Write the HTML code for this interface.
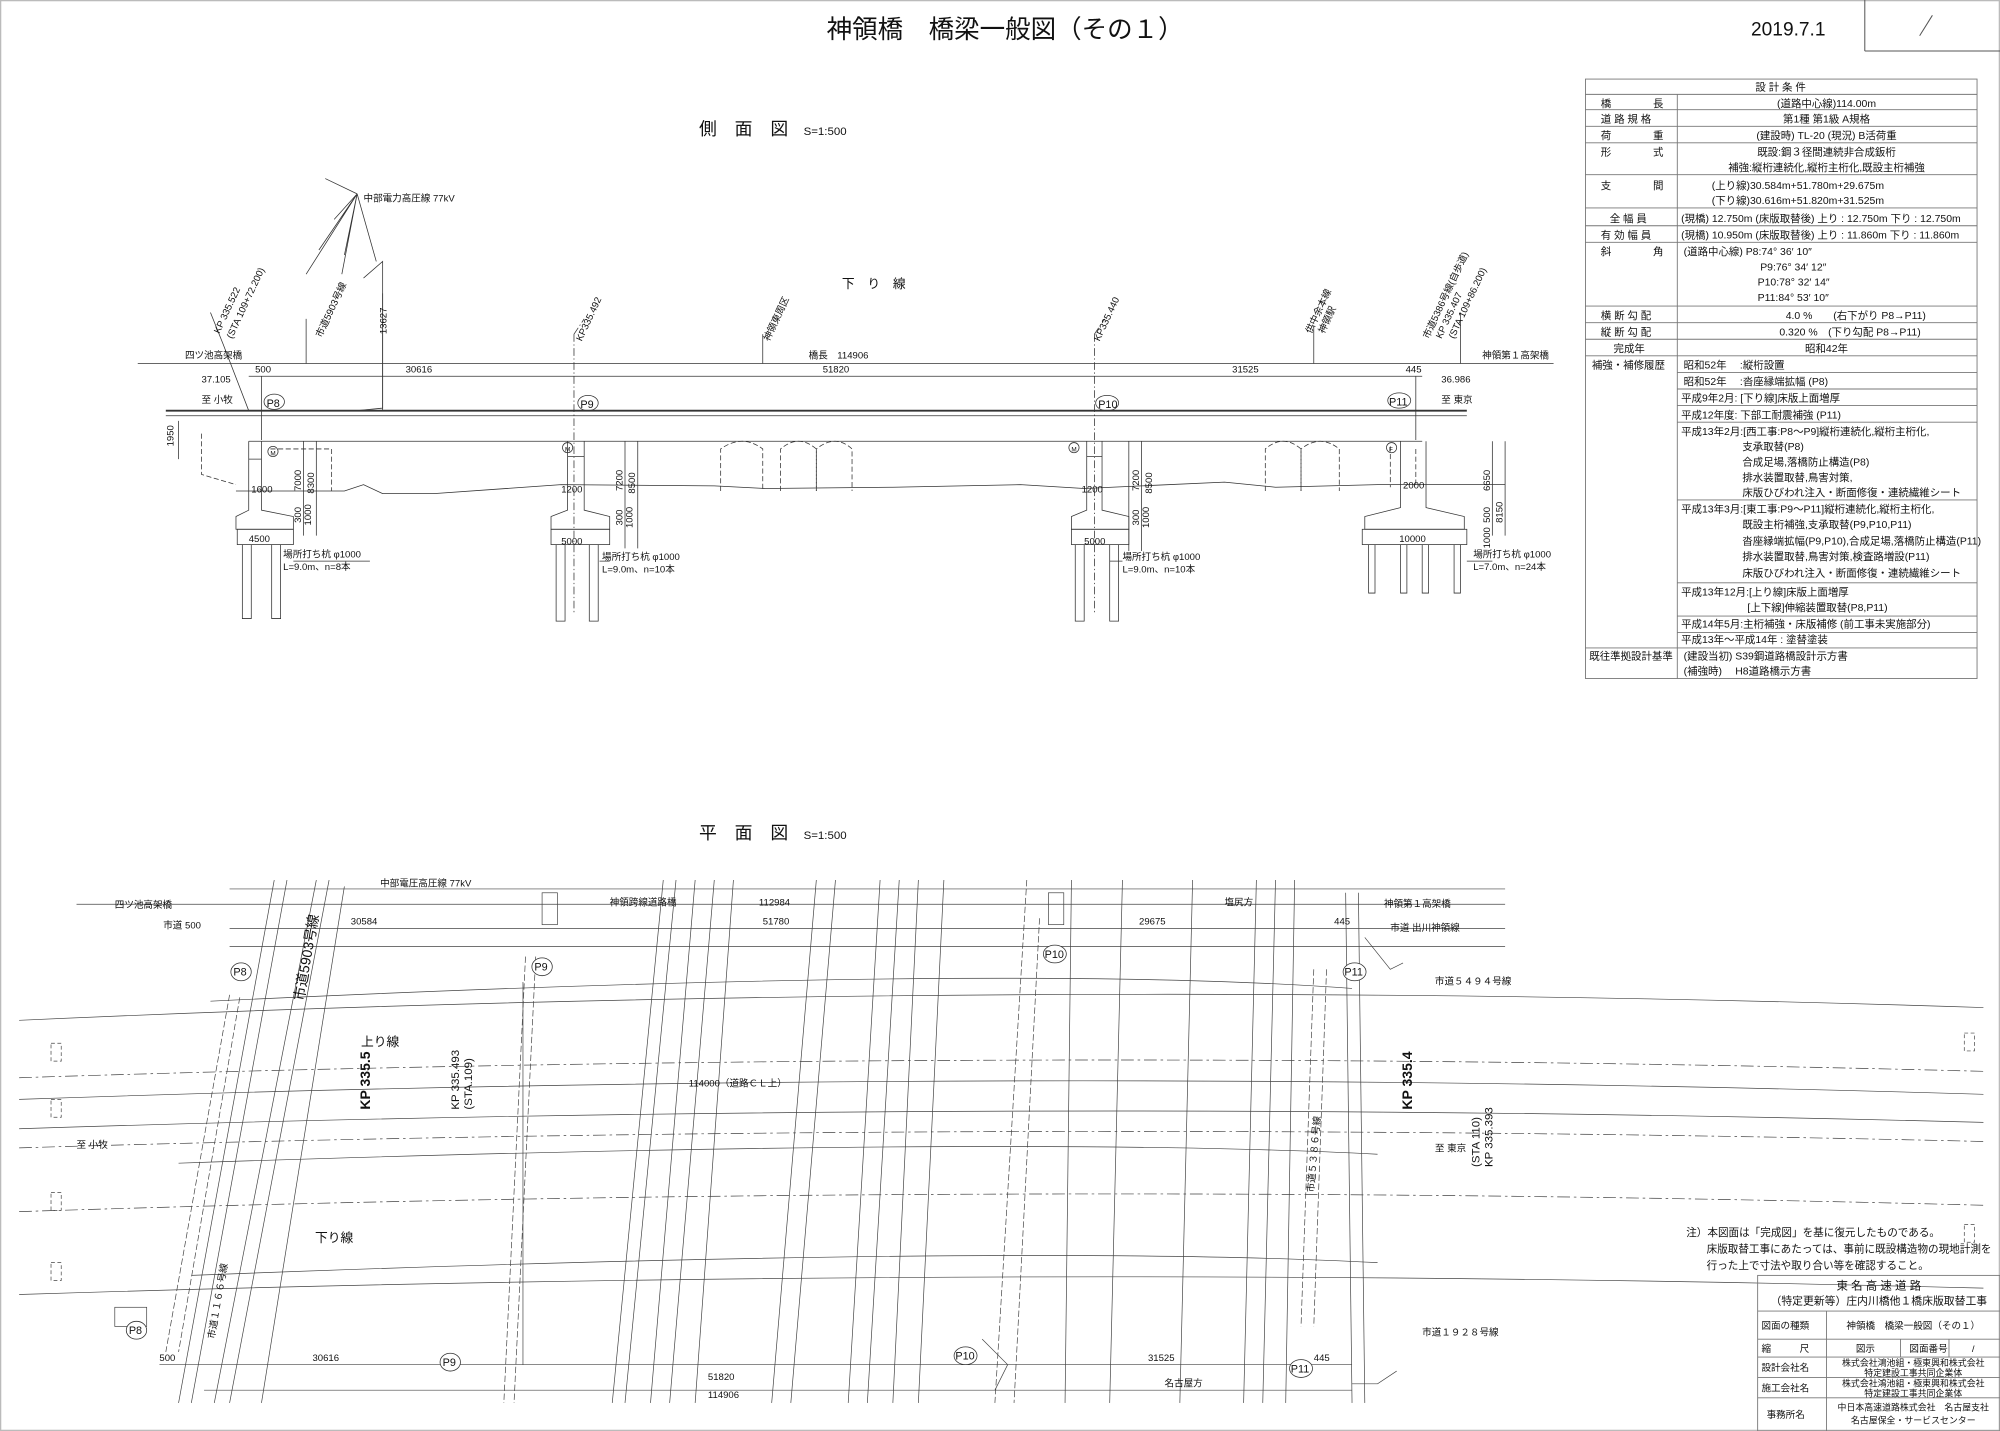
<!DOCTYPE html>
<html><head><meta charset="utf-8"><style>
html,body{margin:0;padding:0;background:#fff}
svg{display:block}
text{font-family:"Liberation Sans","Noto Sans CJK JP",sans-serif;fill:#111}
</style></head><body>
<svg width="2000" height="1431" viewBox="0 0 1568 1122" preserveAspectRatio="none" xmlns="http://www.w3.org/2000/svg">
<rect x="0.5" y="0.5" width="1567" height="1121" fill="#fff" stroke="#bbb" stroke-width="1"/>
<!-- header -->
<text x="788" y="30" font-size="20" text-anchor="middle">神領橋　橋梁一般図（その１）</text>
<text x="1402" y="28" font-size="15" text-anchor="middle">2019.7.1</text>
<line x1="1462" y1="0" x2="1462" y2="40" stroke="#555" stroke-width="0.8"/>
<line x1="1462" y1="40" x2="1568" y2="40" stroke="#555" stroke-width="0.8"/>
<line x1="1505" y1="28" x2="1515" y2="12" stroke="#555" stroke-width="0.8"/>

<!-- design conditions table -->
<g stroke="#777" stroke-width="0.7" fill="none">
<rect x="1243" y="62" width="307" height="470"/>
<line x1="1315" y1="74" x2="1315" y2="532"/>
<g>
<line x1="1243" y1="74" x2="1550" y2="74"/><line x1="1243" y1="86" x2="1550" y2="86"/>
<line x1="1243" y1="99" x2="1550" y2="99"/><line x1="1243" y1="112" x2="1550" y2="112"/>
<line x1="1243" y1="137" x2="1550" y2="137"/><line x1="1243" y1="163" x2="1550" y2="163"/>
<line x1="1243" y1="177" x2="1550" y2="177"/><line x1="1243" y1="190" x2="1550" y2="190"/>
<line x1="1243" y1="240" x2="1550" y2="240"/><line x1="1243" y1="253" x2="1550" y2="253"/>
<line x1="1243" y1="266" x2="1550" y2="266"/><line x1="1243" y1="279" x2="1550" y2="279"/>
<line x1="1315" y1="292" x2="1550" y2="292"/><line x1="1315" y1="305" x2="1550" y2="305"/>
<line x1="1315" y1="318" x2="1550" y2="318"/><line x1="1315" y1="331" x2="1550" y2="331"/>
<line x1="1315" y1="392" x2="1550" y2="392"/><line x1="1315" y1="457" x2="1550" y2="457"/>
<line x1="1315" y1="483" x2="1550" y2="483"/><line x1="1315" y1="496" x2="1550" y2="496"/>
<line x1="1243" y1="508" x2="1550" y2="508"/>
</g></g>
<g font-size="8.2">
<text x="1396" y="71" text-anchor="middle">設 計 条 件</text>
<text x="1255" y="84">橋　　　　長</text><text x="1432" y="84" text-anchor="middle">(道路中心線)114.00m</text>
<text x="1255" y="96">道 路 規 格</text><text x="1432" y="96" text-anchor="middle">第1種 第1級 A規格</text>
<text x="1255" y="109">荷　　　　重</text><text x="1432" y="109" text-anchor="middle">(建設時) TL-20 (現況) B活荷重</text>
<text x="1255" y="122">形　　　　式</text><text x="1432" y="122" text-anchor="middle">既設:鋼３径間連続非合成鈑桁</text>
<text x="1432" y="134" text-anchor="middle">補強:縦桁連続化,縦桁主桁化,既設主桁補強</text>
<text x="1255" y="148">支　　　　間</text><text x="1342" y="148">(上り線)30.584m+51.780m+29.675m</text>
<text x="1342" y="160">(下り線)30.616m+51.820m+31.525m</text>
<text x="1262" y="174">全 幅 員</text><text x="1318" y="174">(現橋) 12.750m (床版取替後) 上り : 12.750m 下り : 12.750m</text>
<text x="1255" y="187">有 効 幅 員</text><text x="1318" y="187">(現橋) 10.950m (床版取替後) 上り : 11.860m 下り : 11.860m</text>
<text x="1255" y="200">斜　　　　角</text><text x="1320" y="200">(道路中心線) P8:74° 36′ 10″</text>
<text x="1380" y="212">P9:76° 34′ 12″</text><text x="1378" y="224">P10:78° 32′ 14″</text><text x="1378" y="236">P11:84° 53′ 10″</text>
<text x="1255" y="250">横 断 勾 配</text><text x="1400" y="250">4.0 %　　(右下がり P8→P11)</text>
<text x="1255" y="263">縦 断 勾 配</text><text x="1395" y="263">0.320 %　(下り勾配 P8→P11)</text>
<text x="1265" y="276">完成年</text><text x="1432" y="276" text-anchor="middle">昭和42年</text>
<text x="1248" y="289">補強・補修履歴</text>
<text x="1320" y="289">昭和52年　 :縦桁設置</text>
<text x="1320" y="302">昭和52年　 :沓座縁端拡幅 (P8)</text>
<text x="1318" y="315">平成9年2月: [下り線]床版上面増厚</text>
<text x="1318" y="328">平成12年度: 下部工耐震補強 (P11)</text>
<text x="1318" y="341">平成13年2月:[西工事:P8～P9]縦桁連続化,縦桁主桁化,</text>
<text x="1366" y="353">支承取替(P8)</text><text x="1366" y="365">合成足場,落橋防止構造(P8)</text>
<text x="1366" y="377">排水装置取替,鳥害対策,</text><text x="1366" y="389">床版ひびわれ注入・断面修復・連続繊維シート</text>
<text x="1318" y="402">平成13年3月:[東工事:P9～P11]縦桁連続化,縦桁主桁化,</text>
<text x="1366" y="414">既設主桁補強,支承取替(P9,P10,P11)</text><text x="1366" y="427">沓座縁端拡幅(P9,P10),合成足場,落橋防止構造(P11)</text>
<text x="1366" y="439">排水装置取替,鳥害対策,検査路増設(P11)</text><text x="1366" y="452">床版ひびわれ注入・断面修復・連続繊維シート</text>
<text x="1318" y="467">平成13年12月:[上り線]床版上面増厚</text><text x="1370" y="479">[上下線]伸縮装置取替(P8,P11)</text>
<text x="1318" y="492">平成14年5月:主桁補強・床版補修 (前工事未実施部分)</text>
<text x="1318" y="504">平成13年～平成14年 : 塗替塗装</text>
<text x="1246" y="517">既往準拠設計基準</text><text x="1320" y="517">(建設当初)  S39鋼道路橋設計示方書</text>
<text x="1320" y="529">(補強時)　 H8道路橋示方書</text>
</g>

<!-- SIDE VIEW -->
<text x="548" y="106" font-size="14">側　面　図</text><text x="630" y="106" font-size="9">S=1:500</text>
<text x="660" y="226" font-size="10">下　り　線</text>
<g stroke="#333" stroke-width="0.6" fill="none">
<!-- power line fan -->
<path d="M280,152 L255,140 M280,152 L262,172 M280,152 L250,196 M280,152 L270,200 M280,152 L240,215 M280,152 L268,215 M280,152 L295,205"/>
<path d="M285,218 L300,205 L300,320 L280,322"/>
<line x1="300" y1="230" x2="300" y2="322"/>
<line x1="108" y1="285" x2="1218" y2="285"/>
<line x1="195" y1="295" x2="1115" y2="295"/>
<line x1="130" y1="322" x2="1150" y2="322" stroke-width="1.4"/>
<line x1="130" y1="326" x2="1150" y2="326"/>
<line x1="195" y1="346" x2="1115" y2="346"/>
<line x1="205" y1="295" x2="205" y2="345"/>
<line x1="1110" y1="295" x2="1110" y2="345"/>
<path d="M195,322 L175,270 L165,245" />
<path d="M450,262 L458,250 M450,262 L450,480 M858,262 L866,250 M858,262 L858,480" stroke-dasharray="6,2,1,2"/>
<line x1="240" y1="250" x2="240" y2="285"/><line x1="598" y1="262" x2="598" y2="285"/>
<line x1="1145" y1="245" x2="1145" y2="285"/><line x1="1030" y1="255" x2="1030" y2="285"/>
<line x1="140" y1="330" x2="140" y2="360"/>
<!-- ground -->
<path d="M185,385 L270,385 L285,380 L300,387 L340,387 L440,380 L560,381 L600,383 L700,382 L800,380 L850,383 L960,378 L1000,382 L1080,380 L1180,380"/>
<!-- tunnels -->
<g stroke-dasharray="4,2">
<path d="M565,385 L565,352 Q582,340 598,352 L598,385"/>
<path d="M612,385 L612,352 Q626,340 640,352 L640,385"/>
<path d="M640,385 L640,352 Q655,340 668,352 L668,385"/>
<path d="M992,385 L992,352 Q1006,340 1020,352 L1020,385"/>
<path d="M1020,385 L1020,352 Q1035,340 1050,352 L1050,385"/>
<path d="M212,352 L260,352 L260,385 M1090,350 L1090,382 M1110,352 L1110,380"/>
<path d="M158,340 L158,372 L185,380"/>
</g>
<!-- piers -->
<g id="pier">
<path d="M195,346 L195,360 L205,360 L205,346 M195,360 L195,400 L185,405 L185,415 L230,415 L230,405 L205,400 L205,360"/>
<rect x="186" y="415" width="44" height="12"/>
<path d="M190,427 L190,485 L197,485 L197,427 M213,427 L213,485 L220,485 L220,427"/>
</g>
<path d="M445,346 L445,400 L432,405 L432,415 L478,415 L478,405 L458,400 L458,346 M445,358 L458,358"/>
<rect x="432" y="415" width="46" height="12"/>
<path d="M436,427 L436,487 L443,487 L443,427 M462,427 L462,487 L469,487 L469,427"/>
<path d="M852,346 L852,400 L840,405 L840,415 L885,415 L885,405 L864,400 L864,346 M852,358 L864,358"/>
<rect x="840" y="415" width="45" height="12"/>
<path d="M843,427 L843,487 L850,487 L850,427 M870,427 L870,487 L877,487 L877,427"/>
<path d="M1098,346 L1098,398 L1070,405 L1070,415 L1148,415 L1148,405 L1118,398 L1118,346"/>
<rect x="1068" y="415" width="82" height="12"/>
<path d="M1073,427 L1073,465 L1078,465 L1078,427 M1098,427 L1098,465 L1103,465 L1103,427 M1115,427 L1115,465 L1120,465 L1120,427 M1140,427 L1140,465 L1145,465 L1145,427"/>
<!-- dim lines -->
<path d="M238,346 L238,420 M248,346 L248,420 M490,346 L490,430 M500,346 L500,430 M885,346 L885,432 M895,346 L895,432 M1170,346 L1170,420 M1180,346 L1180,420"/>
<path d="M230,440 L290,440 M478,440 L470,440 M880,440 L870,440 M1150,440 L1170,440"/>
</g>
<g font-size="7.5">
<text x="145" y="281">四ツ池高架橋</text><text x="1162" y="281">神領第１高架橋</text>
<text x="634" y="281">橋長　114906</text>
<text x="200" y="292">500</text><text x="318" y="292">30616</text><text x="645" y="292">51820</text><text x="966" y="292">31525</text><text x="1102" y="292">445</text>
<text x="158" y="300">37.105</text><text x="1130" y="300">36.986</text>
<text x="158" y="316">至 小牧</text><text x="1130" y="316">至 東京</text>
<text x="197" y="386">1600</text><text x="440" y="386">1200</text><text x="848" y="386">1200</text><text x="1100" y="383">2000</text>
<text x="195" y="425">4500</text><text x="440" y="427">5000</text><text x="850" y="427">5000</text><text x="1097" y="425">10000</text>
<text x="222" y="437">場所打ち杭 φ1000</text><text x="222" y="447">L=9.0m、n=8本</text>
<text x="472" y="439">場所打ち杭 φ1000</text><text x="472" y="449">L=9.0m、n=10本</text>
<text x="880" y="439">場所打ち杭 φ1000</text><text x="880" y="449">L=9.0m、n=10本</text>
<text x="1155" y="437">場所打ち杭 φ1000</text><text x="1155" y="447">L=7.0m、n=24本</text>
<text x="285" y="158">中部電力高圧線 77kV</text>
<text transform="translate(136,350) rotate(-90)">1950</text>
<text transform="translate(236,385) rotate(-90)">7000</text><text transform="translate(246,387) rotate(-90)">8300</text>
<text transform="translate(236,410) rotate(-90)">300</text><text transform="translate(244,412) rotate(-90)">1000</text>
<text transform="translate(488,385) rotate(-90)">7200</text><text transform="translate(498,387) rotate(-90)">8500</text>
<text transform="translate(488,412) rotate(-90)">300</text><text transform="translate(496,414) rotate(-90)">1000</text>
<text transform="translate(893,385) rotate(-90)">7200</text><text transform="translate(903,387) rotate(-90)">8500</text>
<text transform="translate(893,412) rotate(-90)">300</text><text transform="translate(901,414) rotate(-90)">1000</text>
<text transform="translate(1168,385) rotate(-90)">6650</text><text transform="translate(1178,410) rotate(-90)">8150</text>
<text transform="translate(1168,410) rotate(-90)">500</text><text transform="translate(1168,430) rotate(-90)">1000</text>
<text transform="translate(303,262) rotate(-90)">13627</text>
<text transform="translate(172,262) rotate(-65)">KP 335.522</text><text transform="translate(182,266) rotate(-65)">(STA 109+72.200)</text>
<text transform="translate(252,265) rotate(-65)">市道5903号線</text>
<text transform="translate(456,268) rotate(-65)">KP335.492</text>
<text transform="translate(603,268) rotate(-65)">神領東周区</text>
<text transform="translate(862,268) rotate(-65)">KP335.440</text>
<text transform="translate(1028,262) rotate(-65)">供中余本線</text><text transform="translate(1038,262) rotate(-65)">神領駅</text>
<text transform="translate(1120,266) rotate(-65)">市道5386号線(自歩道)</text><text transform="translate(1130,266) rotate(-65)">KP 335.407</text><text transform="translate(1140,266) rotate(-65)">(STA 109+86.200)</text>
<text x="212" y="357" font-size="5">M</text><text x="443" y="354" font-size="5">M</text><text x="840" y="354" font-size="5">M</text><text x="1089" y="354" font-size="5">F</text>
</g>
<g fill="none" stroke="#333" stroke-width="0.6">
<circle cx="214" cy="354" r="4"/><circle cx="445" cy="351" r="4"/><circle cx="842" cy="351" r="4"/><circle cx="1091" cy="351" r="4"/>
<ellipse cx="215" cy="315" rx="8" ry="6"/><ellipse cx="461" cy="316" rx="8" ry="6"/><ellipse cx="868" cy="316" rx="9" ry="6"/><ellipse cx="1097" cy="314" rx="9" ry="6"/>
</g>
<g font-size="8.5"><text x="209" y="319">P8</text><text x="455" y="320">P9</text><text x="861" y="320">P10</text><text x="1089" y="318">P11</text></g>

<!-- PLAN VIEW -->
<text x="548" y="658" font-size="14">平　面　図</text><text x="630" y="658" font-size="9">S=1:500</text>
<g stroke="#444" stroke-width="0.55" fill="none">
<line x1="60" y1="709" x2="1180" y2="709"/>
<line x1="180" y1="728" x2="1180" y2="728"/>
<line x1="180" y1="697" x2="1180" y2="697"/>
<line x1="180" y1="742" x2="1180" y2="742"/>
<path d="M15,800 Q790,765 1555,790"/>
<path d="M165,785 Q790,755 1060,775"/>
<path d="M15,845 Q790,820 1555,840" stroke-dasharray="10,3,2,3"/>
<path d="M15,862 Q790,835 1555,858"/>
<path d="M15,885 Q790,860 1555,880"/>
<path d="M15,900 Q790,877 1555,895" stroke-dasharray="10,3,2,3"/>
<path d="M140,912 Q790,890 1080,905"/>
<path d="M15,950 Q790,925 1555,945" stroke-dasharray="10,3,2,3"/>
<path d="M150,1000 Q790,975 1080,990"/>
<path d="M15,1015 Q790,990 1555,1010"/>
<line x1="125" y1="1070" x2="1060" y2="1070"/>
<line x1="160" y1="1090" x2="1060" y2="1090"/>
<!-- slanted lines -->
<path d="M215,690 L140,1100 M225,690 L150,1100 M248,690 L168,1100 M258,690 L180,1100 M270,695 L205,1100"/>
<path d="M180,780 L130,1060 M188,782 L140,1060" stroke-dasharray="5,2"/>
<path d="M412,750 L395,1100 M420,750 L403,1100" stroke-dasharray="5,2"/>
<path d="M520,690 L480,1100 M530,690 L490,1100 M545,690 L510,1100 M560,690 L525,1100 M575,690 L545,1100"/>
<path d="M640,690 L605,1100 M655,690 L620,1100 M690,690 L665,1100 M705,690 L680,1100 M720,690 L700,1100 M740,690 L720,1100"/>
<path d="M805,690 L780,1100 M815,720 L795,1100" stroke-dasharray="5,2"/>
<path d="M840,690 L835,1100 M880,690 L870,1100 M935,690 L925,1100"/>
<path d="M985,690 L975,1100 M1000,690 L990,1100 M1015,690 L1008,1100"/>
<path d="M1030,760 L1020,1040 M1040,760 L1030,1040" stroke-dasharray="5,2"/>
<path d="M1055,700 L1060,1100 M1065,700 L1070,1100"/>
<line x1="410" y1="770" x2="410" y2="1070"/>
<rect x="425" y="700" width="12" height="25"/><rect x="822" y="700" width="12" height="25"/>
<path d="M1070,735 L1090,760 L1100,755 M1060,1085 L1080,1085 L1095,1075"/>
<rect x="90" y="1025" width="25" height="15"/>
<path d="M770,1050 L790,1070 L780,1090"/>
<g stroke-dasharray="3,2"><rect x="40" y="818" width="8" height="14"/><rect x="40" y="862" width="8" height="14"/><rect x="40" y="935" width="8" height="14"/><rect x="40" y="990" width="8" height="14"/><rect x="1540" y="810" width="8" height="14"/><rect x="1540" y="960" width="8" height="14"/></g>
</g>
<g font-size="7.5">
<text x="90" y="712">四ツ池高架橋</text><text x="478" y="710">神領跨線道路橋</text><text x="1085" y="711">神領第１高架橋</text>
<text x="298" y="695">中部電圧高圧線 77kV</text><text x="595" y="710">112984</text><text x="598" y="725">51780</text>
<text x="275" y="725">30584</text><text x="893" y="725">29675</text><text x="960" y="710">塩尻方</text>
<text x="128" y="728">市道 500</text><text x="1046" y="725">445</text><text x="1090" y="730">市道 出川神領線</text>
<text x="1125" y="772">市道５４９４号線</text><text x="1115" y="1047">市道１９２８号線</text>
<text x="540" y="852">114000（道路ＣＬ上）</text>
<text x="60" y="900">至 小牧</text><text x="1125" y="903">至 東京</text>
<text x="125" y="1067">500</text><text x="245" y="1067">30616</text><text x="555" y="1082">51820</text><text x="555" y="1096">114906</text>
<text x="900" y="1067">31525</text><text x="1030" y="1067">445</text><text x="913" y="1087">名古屋方</text>
<text transform="translate(168,1050) rotate(-80)">市道１１６６号線</text>
<text transform="translate(1030,935) rotate(-85)">市道５３８６号線</text>
</g>
<text x="283" y="820" font-size="10">上り線</text><text x="247" y="974" font-size="10">下り線</text>
<text transform="translate(238,785) rotate(-80)" font-size="11">市道5903号線</text>
<text transform="translate(290,870) rotate(-90)" font-size="11" font-weight="bold">KP 335.5</text>
<text transform="translate(360,870) rotate(-90)" font-size="9">KP 335.493</text><text transform="translate(370,870) rotate(-90)" font-size="9">(STA.109)</text>
<text transform="translate(1107,870) rotate(-90)" font-size="11" font-weight="bold">KP 335.4</text>
<text transform="translate(1160,915) rotate(-90)" font-size="9">(STA 110)</text><text transform="translate(1170,915) rotate(-90)" font-size="9">KP 335.393</text>
<g fill="#fff" stroke="#333" stroke-width="0.6">
<ellipse cx="189" cy="762" rx="8" ry="7"/><ellipse cx="425" cy="758" rx="8" ry="7"/><ellipse cx="827" cy="748" rx="9" ry="7"/><ellipse cx="1062" cy="762" rx="9" ry="7"/>
<ellipse cx="107" cy="1043" rx="8" ry="7"/><ellipse cx="353" cy="1068" rx="8" ry="7"/><ellipse cx="757" cy="1063" rx="9" ry="7"/><ellipse cx="1020" cy="1073" rx="9" ry="7"/>
</g>
<g font-size="8.5">
<text x="183" y="765">P8</text><text x="419" y="761">P9</text><text x="819" y="751">P10</text><text x="1054" y="765">P11</text>
<text x="101" y="1046">P8</text><text x="347" y="1071">P9</text><text x="749" y="1066">P10</text><text x="1012" y="1076">P11</text>
</g>

<!-- notes -->
<g font-size="8.3">
<text x="1322" y="969">注）本図面は「完成図」を基に復元したものである。</text>
<text x="1338" y="982">床版取替工事にあたっては、事前に既設構造物の現地計測を</text>
<text x="1338" y="995">行った上で寸法や取り合い等を確認すること。</text>
</g>
<!-- title block -->
<g stroke="#777" stroke-width="0.7" fill="none">
<rect x="1378" y="1000" width="190" height="122"/>
<line x1="1378" y1="1028" x2="1568" y2="1028"/><line x1="1378" y1="1050" x2="1568" y2="1050"/>
<line x1="1378" y1="1064" x2="1568" y2="1064"/><line x1="1378" y1="1080" x2="1568" y2="1080"/>
<line x1="1378" y1="1096" x2="1568" y2="1096"/>
<line x1="1432" y1="1028" x2="1432" y2="1122"/>
<line x1="1490" y1="1050" x2="1490" y2="1064"/><line x1="1528" y1="1050" x2="1528" y2="1064"/>
</g>
<g font-size="7.5">
<text x="1473" y="1011" text-anchor="middle" font-size="9">東 名 高 速 道 路</text>
<text x="1473" y="1023" text-anchor="middle" font-size="8.5">（特定更新等）庄内川橋他１橋床版取替工事</text>
<text x="1381" y="1042">図面の種類</text><text x="1500" y="1042" text-anchor="middle">神領橋　橋梁一般図（その１）</text>
<text x="1381" y="1060">縮　　　尺</text><text x="1455" y="1060">図示</text><text x="1497" y="1060">図面番号</text><text x="1546" y="1060">/</text>
<text x="1381" y="1075">設計会社名</text><text x="1500" y="1071" text-anchor="middle" font-size="7">株式会社鴻池組・極東興和株式会社</text><text x="1500" y="1079" text-anchor="middle" font-size="7">特定建設工事共同企業体</text>
<text x="1381" y="1091">施工会社名</text><text x="1500" y="1087" text-anchor="middle" font-size="7">株式会社鴻池組・極東興和株式会社</text><text x="1500" y="1095" text-anchor="middle" font-size="7">特定建設工事共同企業体</text>
<text x="1385" y="1112">事務所名</text><text x="1500" y="1106" text-anchor="middle" font-size="7">中日本高速道路株式会社　名古屋支社</text><text x="1500" y="1116" text-anchor="middle" font-size="7">名古屋保全・サービスセンター</text>
</g>
</svg>
</body></html>
